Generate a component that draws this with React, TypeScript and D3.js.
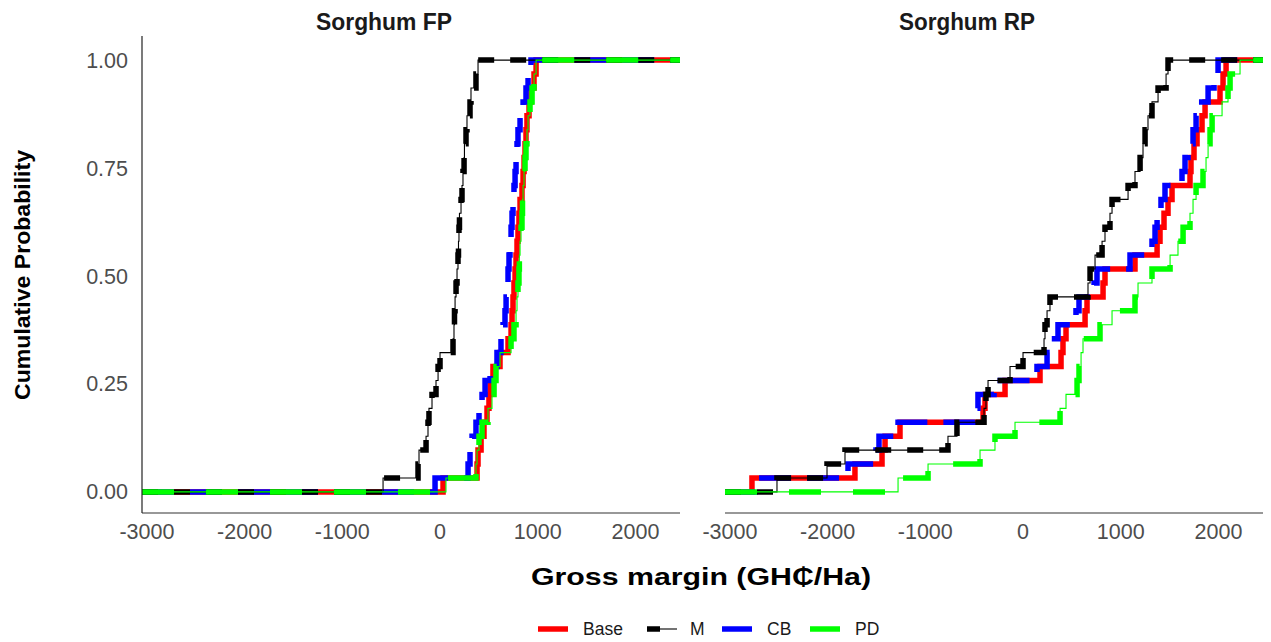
import React from "react";
import * as d3 from "d3";

// Facet panels and series
const panelTitles = ["Sorghum FP", "Sorghum RP"];
const seriesNames = ["Base", "M", "CB", "PD"];
const xTicks = [-3000, -2000, -1000, 0, 1000, 2000];
const yTicks = [0, 0.25, 0.5, 0.75, 1];

// Gross margin observations (GH₵/Ha), one value per simulated outcome
const fpBase = [31, 379, 389, 420, 450, 481, 501, 512, 542, 614, 696, 727, 737, 747, 757, 768, 778, 788, 798, 808, 819, 839, 850, 860, 870, 880, 890, 911, 931, 962, 983];
const fpM = [-583, -225, -215, -143, -123, -113, -82, -41, -20, 0, 133, 143, 148, 154, 164, 174, 184, 189, 194, 199, 215, 225, 235, 246, 250, 266, 276, 307, 317, 368, 389];
const fpCB = [-51, 287, 307, 328, 368, 399, 430, 461, 512, 583, 624, 645, 665, 676, 686, 696, 706, 716, 727, 737, 747, 757, 768, 778, 788, 798, 819, 850, 880, 901, 931];
const fpPD = [61, 368, 379, 399, 430, 491, 532, 553, 573, 614, 727, 757, 778, 788, 798, 808, 812, 819, 829, 839, 844, 850, 860, 870, 880, 890, 901, 921, 942, 962, 983];

const rpBase = [-2774, -1720, -1443, -1412, -1259, -409, -389, -184, 174, 389, 409, 440, 635, 655, 819, 839, 1146, 1372, 1402, 1443, 1484, 1525, 1709, 1719, 1750, 1781, 1832, 1863, 2016, 2047, 2078];
const rpM = [-2518, -2006, -1822, -768, -676, -399, -379, -358, -133, 0, 215, 225, 246, 276, 665, 686, 737, 809, 839, 890, 911, 1075, 1146, 1198, 1228, 1249, 1279, 1320, 1382, 1464, 1484];
const rpCB = [-2743, -1791, -1505, -1474, -1279, -491, -461, -297, 143, 246, 276, 358, 542, 573, 727, 757, 1095, 1320, 1351, 1372, 1412, 1453, 1627, 1658, 1689, 1740, 1771, 1791, 1894, 1955, 1996];
const rpPD = [-1279, -972, -440, -287, -82, 379, 440, 553, 573, 594, 614, 788, 911, 1146, 1177, 1320, 1505, 1586, 1638, 1709, 1740, 1771, 1842, 1873, 1894, 1914, 1935, 2037, 2098, 2119, 2221];

const panelData: Record<string, number[]>[] = [
  { Base: fpBase, M: fpM, CB: fpCB, PD: fpPD },
  { Base: rpBase, M: rpM, CB: rpCB, PD: rpPD },
];

type LineStyle = { color: string; dash: string | null; thin: boolean };
const lineStyles: Record<string, LineStyle> = {
  Base: { color: "#FF0000", dash: null, thin: false },
  M: { color: "#000000", dash: "16 16", thin: true },
  CB: { color: "#0000FF", dash: "32 16", thin: false },
  PD: { color: "#00FF00", dash: "32 32", thin: true },
};
const drawOrder = ["Base", "CB", "M", "PD"];

const FONT = "'Liberation Sans', Arial, Helvetica, sans-serif";
const THICK = 5.5;
const THIN = 1.1;

export default function App() {
  const width = 1271;
  const height = 642;
  const panelLeft = [142, 725];
  const panelWidth = 538;

  const x = d3.scaleLinear().domain([-3050, 2456]).range([0, panelWidth]);
  const y = d3.scaleLinear().domain([-0.05, 1.05]).range([513.5, 38.5]);

  const line = d3
    .line<[number, number]>()
    .x((d) => x(d[0]))
    .y((d) => y(d[1]))
    .curve(d3.curveStepAfter);

  // Empirical CDF padded to the panel edges
  const ecdf = (vals: number[]): [number, number][] => {
    const s = [...vals].sort(d3.ascending);
    const n = s.length;
    const [lo, hi] = x.domain();
    return [[lo, 0], ...s.map((v, i) => [v, (i + 1) / n] as [number, number]), [hi, 1]];
  };

  const fmtY = d3.format(".2f");

  const renderSeries = (name: string, pts: [number, number][], key: string) => {
    const st = lineStyles[name];
    const d = line(pts) || "";
    return (
      <g key={key}>
        {st.thin && <path d={d} fill="none" stroke={st.color} strokeWidth={THIN} />}
        <path
          d={d}
          fill="none"
          stroke={st.color}
          strokeWidth={THICK}
          strokeDasharray={st.dash || undefined}
          strokeLinecap="butt"
          strokeLinejoin="miter"
        />
      </g>
    );
  };

  // Legend layout
  const legendY = 629;
  const legendKeyX = [538, 647, 722, 810];
  const legendTextX = [583, 690, 767, 855];

  return (
    <svg
      width={width}
      height={height}
      style={{ position: "absolute", left: 0, top: 0, background: "#fff" }}
      fontFamily={FONT}
    >
      {panelTitles.map((title, pi) => {
        const ox = panelLeft[pi];
        return (
          <g key={title} transform={`translate(${ox},0)`}>
            <text
              x={panelWidth / 2 - 27}
              y={30}
              textAnchor="middle"
              fontSize={23}
              fontWeight="bold"
              fill="#1a1a1a"
              textLength={136}
              lengthAdjust="spacingAndGlyphs"
            >
              {title}
            </text>
            {drawOrder.map((name) => renderSeries(name, ecdf(panelData[pi][name]), `${title}-${name}`))}
            <line x1={0} x2={panelWidth} y1={513} y2={513} stroke="#333" strokeWidth={1.2} />
            {xTicks.map((t) => (
              <text
                key={t}
                x={x(t)}
                y={539}
                textAnchor="middle"
                fontSize={21.5}
                fill="#4D4D4D"
              >
                {t}
              </text>
            ))}
          </g>
        );
      })}

      {/* shared y axis on the left panel */}
      <line x1={142} x2={142} y1={36} y2={513} stroke="#222" strokeWidth={1.2} />
      {yTicks.map((t) => (
        <text
          key={t}
          x={128}
          y={y(t)}
          dy="0.35em"
          textAnchor="end"
          fontSize={21.5}
          fill="#4D4D4D"
        >
          {fmtY(t)}
        </text>
      ))}

      <text
        transform={`translate(30,275) rotate(-90)`}
        textAnchor="middle"
        fontSize={22}
        fontWeight="bold"
        fill="#000"
        textLength={250}
        lengthAdjust="spacingAndGlyphs"
      >
        Cumulative Probability
      </text>

      <text
        x={701}
        y={585}
        textAnchor="middle"
        fontSize={23}
        fontWeight="bold"
        fill="#000"
        textLength={340}
        lengthAdjust="spacingAndGlyphs"
      >
        Gross margin (GH₵/Ha)
      </text>

      {seriesNames.map((name, i) => {
        const st = lineStyles[name];
        const x0 = legendKeyX[i];
        return (
          <g key={`legend-${name}`}>
            {st.thin && (
              <line x1={x0} x2={x0 + 30} y1={legendY} y2={legendY} stroke={st.color} strokeWidth={THIN} />
            )}
            <line
              x1={x0}
              x2={x0 + 30}
              y1={legendY}
              y2={legendY}
              stroke={st.color}
              strokeWidth={THICK}
              strokeDasharray={name === "M" ? "13 17" : undefined}
            />
            <text x={legendTextX[i]} y={legendY} dy="0.35em" fontSize={17.5} fill="#1a1a1a">
              {name}
            </text>
          </g>
        );
      })}
    </svg>
  );
}
